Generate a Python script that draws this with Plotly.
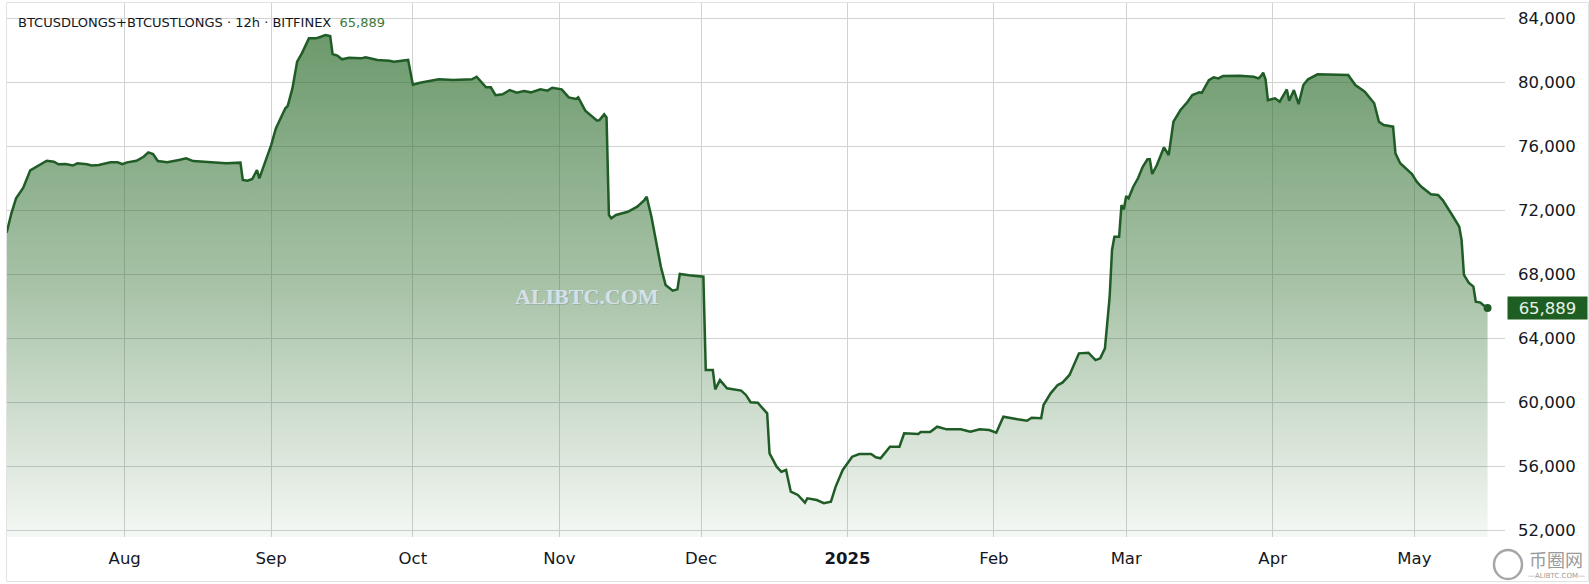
import plotly.graph_objects as go

# ---------------- data ----------------
dates = [
    "2024-07-07 00:00", "2024-07-08 00:00", "2024-07-09 00:00", "2024-07-10 12:00", "2024-07-12 00:00",
    "2024-07-13 00:00", "2024-07-15 12:00", "2024-07-17 00:00", "2024-07-18 00:00", "2024-07-19 12:00",
    "2024-07-21 00:00", "2024-07-22 00:00", "2024-07-24 00:00", "2024-07-25 00:00", "2024-07-26 12:00",
    "2024-07-29 00:00", "2024-07-30 12:00", "2024-07-31 12:00",
    "2024-08-01 12:00", "2024-08-03 12:00", "2024-08-05 00:00", "2024-08-06 00:00", "2024-08-07 00:00",
    "2024-08-08 00:00", "2024-08-10 00:00", "2024-08-12 12:00", "2024-08-14 00:00", "2024-08-15 12:00",
    "2024-08-18 12:00", "2024-08-20 12:00", "2024-08-22 12:00", "2024-08-25 12:00", "2024-08-26 00:00",
    "2024-08-27 00:00", "2024-08-28 00:00", "2024-08-29 00:00", "2024-08-29 12:00", "2024-08-31 00:00",
    "2024-09-01 00:00", "2024-09-02 00:00", "2024-09-04 00:00", "2024-09-04 12:00", "2024-09-05 12:00",
    "2024-09-06 12:00", "2024-09-07 12:00", "2024-09-09 00:00", "2024-09-10 12:00", "2024-09-11 12:00",
    "2024-09-12 12:00", "2024-09-13 12:00", "2024-09-14 00:00", "2024-09-15 00:00", "2024-09-16 00:00",
    "2024-09-17 12:00", "2024-09-20 00:00", "2024-09-21 00:00", "2024-09-23 12:00", "2024-09-26 00:00",
    "2024-09-27 00:00", "2024-09-30 00:00",
    "2024-10-01 00:00", "2024-10-02 12:00", "2024-10-05 00:00", "2024-10-06 12:00", "2024-10-09 12:00",
    "2024-10-13 12:00", "2024-10-14 12:00", "2024-10-16 12:00", "2024-10-17 12:00", "2024-10-18 12:00",
    "2024-10-20 00:00", "2024-10-21 12:00", "2024-10-23 00:00", "2024-10-24 12:00", "2024-10-26 00:00",
    "2024-10-28 00:00", "2024-10-29 12:00", "2024-10-30 12:00",
    "2024-11-01 12:00", "2024-11-03 00:00", "2024-11-04 12:00", "2024-11-05 00:00", "2024-11-06 12:00",
    "2024-11-08 00:00", "2024-11-09 00:00", "2024-11-09 12:00", "2024-11-10 12:00", "2024-11-11 00:00",
    "2024-11-11 12:00", "2024-11-12 00:00", "2024-11-13 00:00", "2024-11-15 12:00", "2024-11-17 12:00",
    "2024-11-19 00:00", "2024-11-19 12:00", "2024-11-20 12:00", "2024-11-21 12:00", "2024-11-22 12:00",
    "2024-11-23 12:00", "2024-11-25 00:00", "2024-11-26 00:00", "2024-11-26 12:00", "2024-11-28 12:00",
    "2024-12-01 00:00", "2024-12-01 12:00", "2024-12-02 00:00", "2024-12-03 12:00", "2024-12-04 00:00",
    "2024-12-05 00:00", "2024-12-06 12:00", "2024-12-09 12:00", "2024-12-10 12:00", "2024-12-11 12:00",
    "2024-12-13 00:00", "2024-12-15 00:00", "2024-12-15 12:00", "2024-12-17 00:00", "2024-12-18 00:00",
    "2024-12-19 00:00", "2024-12-20 00:00", "2024-12-21 12:00", "2024-12-23 00:00", "2024-12-23 12:00",
    "2024-12-25 12:00", "2024-12-27 00:00", "2024-12-28 12:00", "2024-12-29 12:00", "2024-12-31 00:00",
    "2025-01-02 00:00", "2025-01-03 12:00", "2025-01-06 00:00", "2025-01-07 00:00", "2025-01-08 00:00",
    "2025-01-10 00:00", "2025-01-12 00:00", "2025-01-13 00:00", "2025-01-15 00:00", "2025-01-16 00:00",
    "2025-01-16 12:00", "2025-01-18 12:00", "2025-01-20 00:00", "2025-01-22 00:00", "2025-01-25 00:00",
    "2025-01-27 00:00", "2025-01-29 00:00", "2025-01-31 00:00",
    "2025-02-01 12:00", "2025-02-03 00:00", "2025-02-06 00:00", "2025-02-08 00:00", "2025-02-09 00:00",
    "2025-02-11 00:00", "2025-02-11 12:00", "2025-02-13 00:00", "2025-02-14 12:00", "2025-02-15 12:00",
    "2025-02-17 00:00", "2025-02-19 00:00", "2025-02-21 00:00", "2025-02-22 12:00", "2025-02-23 12:00",
    "2025-02-24 12:00", "2025-02-25 12:00", "2025-02-26 00:00", "2025-02-26 12:00", "2025-02-27 12:00",
    "2025-02-28 00:00", "2025-02-28 12:00",
    "2025-03-01 00:00", "2025-03-01 12:00", "2025-03-02 12:00", "2025-03-03 12:00", "2025-03-04 12:00",
    "2025-03-05 12:00", "2025-03-06 00:00", "2025-03-06 12:00", "2025-03-07 12:00", "2025-03-09 00:00",
    "2025-03-10 00:00", "2025-03-11 00:00", "2025-03-12 12:00", "2025-03-14 00:00", "2025-03-15 00:00",
    "2025-03-16 12:00", "2025-03-17 00:00", "2025-03-18 12:00", "2025-03-19 12:00", "2025-03-20 12:00",
    "2025-03-21 12:00", "2025-03-25 00:00", "2025-03-28 00:00", "2025-03-29 00:00", "2025-03-29 12:00",
    "2025-03-30 00:00", "2025-03-30 12:00", "2025-03-31 00:00",
    "2025-04-01 12:00", "2025-04-02 12:00", "2025-04-04 00:00", "2025-04-04 12:00", "2025-04-05 12:00",
    "2025-04-06 12:00", "2025-04-07 12:00", "2025-04-08 12:00", "2025-04-10 12:00", "2025-04-14 00:00",
    "2025-04-17 00:00", "2025-04-18 12:00", "2025-04-20 12:00", "2025-04-22 12:00", "2025-04-23 12:00",
    "2025-04-24 12:00", "2025-04-26 12:00", "2025-04-27 00:00", "2025-04-28 00:00", "2025-04-30 12:00",
    "2025-05-01 12:00", "2025-05-02 12:00", "2025-05-04 12:00", "2025-05-06 00:00", "2025-05-07 00:00",
    "2025-05-09 00:00", "2025-05-10 12:00", "2025-05-11 00:00", "2025-05-11 12:00", "2025-05-12 12:00",
    "2025-05-13 12:00", "2025-05-14 00:00", "2025-05-15 00:00", "2025-05-15 12:00", "2025-05-16 12:00",
]

values = [
    70600, 71800, 72750, 73400, 74500,
    74660, 75100, 75040, 74880, 74900,
    74800, 74940, 74880, 74800, 74840,
    75000, 75000, 74880,
    75000, 75100, 75350, 75620, 75520,
    75080, 75000, 75150, 75250, 75080,
    75040, 74980, 74940, 74980, 73900,
    73850, 73960, 74520, 74000, 75250,
    76080, 77120, 78380, 78520, 79620,
    81290, 81810, 82750, 82750, 82850,
    82960, 82900, 81770, 81670, 81440,
    81540, 81500, 81560, 81400, 81350,
    81290, 81400,
    79850, 79975, 80080, 80190, 80140,
    80190, 80350, 79690, 79690, 79200,
    79250, 79520, 79350, 79460, 79375,
    79560, 79480, 79660,
    79560, 79060, 78960, 79060, 78230,
    77850, 77600, 77640, 78000, 77810,
    71710, 71500, 71710, 71910, 72230,
    72640, 72850, 71600, 70140, 68475,
    67330, 66975, 67060, 68020, 67940,
    67900, 67850, 62020, 62020, 60810,
    61390, 60875, 60730, 60460, 60000,
    59975, 59310, 56810, 55975, 55660,
    55770, 54410, 54210, 53725, 54000,
    53890, 53690, 53790, 54730, 55770,
    56600, 56770, 56770, 56560, 56500,
    57225, 57225, 58060, 58060, 58020,
    58140, 58140, 58475, 58310, 58310,
    58160, 58310, 58270,
    58100, 59100, 58940, 58850, 59040,
    59000, 59830, 60560, 61080, 61225,
    61710, 63060, 63100, 62640, 62750,
    63375, 66600, 69520, 70350, 70350,
    72330, 72060,
    72890, 72750, 73475, 74000, 74725,
    75190, 75190, 74270, 74830, 75940,
    75460, 77540, 78270, 78790, 79210,
    79375, 79350, 80140, 80310, 80250,
    80390, 80410, 80350, 80250, 80390,
    80600, 80190, 78890,
    79000, 78790, 79560, 78850, 79520,
    78640, 79830, 80190, 80500, 80460,
    80460, 79830, 79410, 78690, 77540,
    77330, 77230, 75560, 74940, 74270,
    73790, 73475, 73000, 72960, 72640,
    71710, 70980, 70140, 67960, 67480,
    67230, 66290, 66230, 66100, 65889,
]

title_text = "BTCUSDLONGS+BTCUSTLONGS · 12h · BITFINEX"
last_label = "65,889"
y_ticks = [52000, 56000, 60000, 64000, 68000, 72000, 76000, 80000, 84000]
x_tick_dates = ["2024-08-01", "2024-09-01", "2024-10-01", "2024-11-01", "2024-12-01",
                "2025-01-01", "2025-02-01", "2025-03-01", "2025-04-01", "2025-05-01"]
x_tick_labels = ["Aug", "Sep", "Oct", "Nov", "Dec", "<b>2025</b>", "Feb", "Mar", "Apr", "May"]

# ---------------- layout geometry ----------------
W, H = 1589, 584
L, R, T, B = 7, 1505, 3, 537  # plot area in pixels


def px(x):
    return (x - L) / (R - L)


def py(y):
    return (B - y) / (B - T)


LINE = "#1f5c26"
FONT = "DejaVu Sans"
TXT = "#131722"

fig = go.Figure()
fig.add_trace(go.Scatter(
    x=dates, y=values, mode="lines",
    line=dict(color=LINE, width=2.5),
    fill="tozeroy",
    fillgradient=dict(
        type="vertical",
        colorscale=[[0, "rgba(46,110,46,0.05)"], [0.5, "rgba(46,110,46,0.42)"], [1, "rgba(46,110,46,0.7)"]],
        start=51580, stop=83000,
    ),
    hoverinfo="skip", showlegend=False,
))
fig.add_trace(go.Scatter(
    x=[dates[-1]], y=[values[-1]], mode="markers",
    marker=dict(color=LINE, size=8),
    hoverinfo="skip", showlegend=False,
))

fig.update_layout(
    width=W, height=H,
    margin=dict(l=L, r=W - R, t=T, b=H - B),
    paper_bgcolor="white", plot_bgcolor="white",
    font=dict(family=FONT, color=TXT),
    xaxis=dict(
        type="date", range=["2024-07-07 02:00", "2025-05-20 04:30"],
        tickvals=x_tick_dates, ticktext=x_tick_labels,
        showgrid=True, gridcolor="#d2d2d2", gridwidth=1,
        zeroline=False, showline=False, ticks="",
        tickfont=dict(size=16.5, color=TXT, family=FONT),
        ticklabelstandoff=9,
    ),
    yaxis=dict(
        side="right", range=[51580, 84960],
        tickvals=y_ticks, ticktext=[f"{v:,}" for v in y_ticks],
        showgrid=True, gridcolor="#d2d2d2", gridwidth=1,
        zeroline=False, showline=False, ticks="",
        tickfont=dict(size=16.5, color=TXT, family=FONT),
        ticklabelstandoff=12,
    ),
)

# chart frame
fig.add_shape(type="rect", xref="paper", yref="paper",
              x0=px(6.5), x1=px(1588.5), y0=py(581.5), y1=py(2.5),
              line=dict(color="#e2e2e2", width=1), layer="above")

# legend / title line
fig.add_annotation(
    xref="paper", yref="paper", x=0, y=1, xanchor="left", yanchor="middle",
    xshift=9, yshift=-19, showarrow=False,
    text=f"{title_text} &nbsp;<span style='color:#3b783b'>{last_label}</span>",
    font=dict(size=13, color=TXT, family=FONT),
)

# last value label on the price axis
fig.add_annotation(
    xref="paper", yref="y", x=1, y=values[-1], xanchor="left", yanchor="middle",
    xshift=2, showarrow=False, text=last_label,
    width=79, height=22, bgcolor="#1f5e23", borderpad=0, align="center",
    font=dict(size=16.5, color="#e8f3e8", family=FONT),
)

# watermark (soft shadow + light text)
fig.add_annotation(
    xref="paper", yref="paper", x=px(588), y=py(297), xanchor="center", yanchor="middle",
    showarrow=False, text="<b>ALIBTC.COM</b>",
    font=dict(size=22, color="rgba(120,140,160,0.35)", family="Liberation Serif"),
)
fig.add_annotation(
    xref="paper", yref="paper", x=px(587), y=py(296), xanchor="center", yanchor="middle",
    showarrow=False, text="<b>ALIBTC.COM</b>",
    font=dict(size=22, color="rgba(222,230,242,0.9)", family="Liberation Serif"),
)

# bottom-right logo
fig.add_shape(type="circle", xref="paper", yref="paper",
              x0=px(1494), x1=px(1522), y0=py(579), y1=py(550),
              line=dict(color="#a6a6a6", width=2.5))
fig.add_annotation(
    xref="paper", yref="paper", x=px(1556), y=py(559), xanchor="center", yanchor="middle",
    showarrow=False, text="币圈网",
    font=dict(size=18, color="#9a9a9a", family="Noto Sans CJK SC"),
)
fig.add_annotation(
    xref="paper", yref="paper", x=px(1556), y=py(576), xanchor="center", yanchor="middle",
    showarrow=False, text="—ALIBTC.COM—",
    font=dict(size=7, color="#9a9a9a", family=FONT),
)

fig.write_html(
    "out.html",
    config={"displayModeBar": False},
    post_script="document.body.style.margin='0';document.body.style.overflow='hidden';",
)
